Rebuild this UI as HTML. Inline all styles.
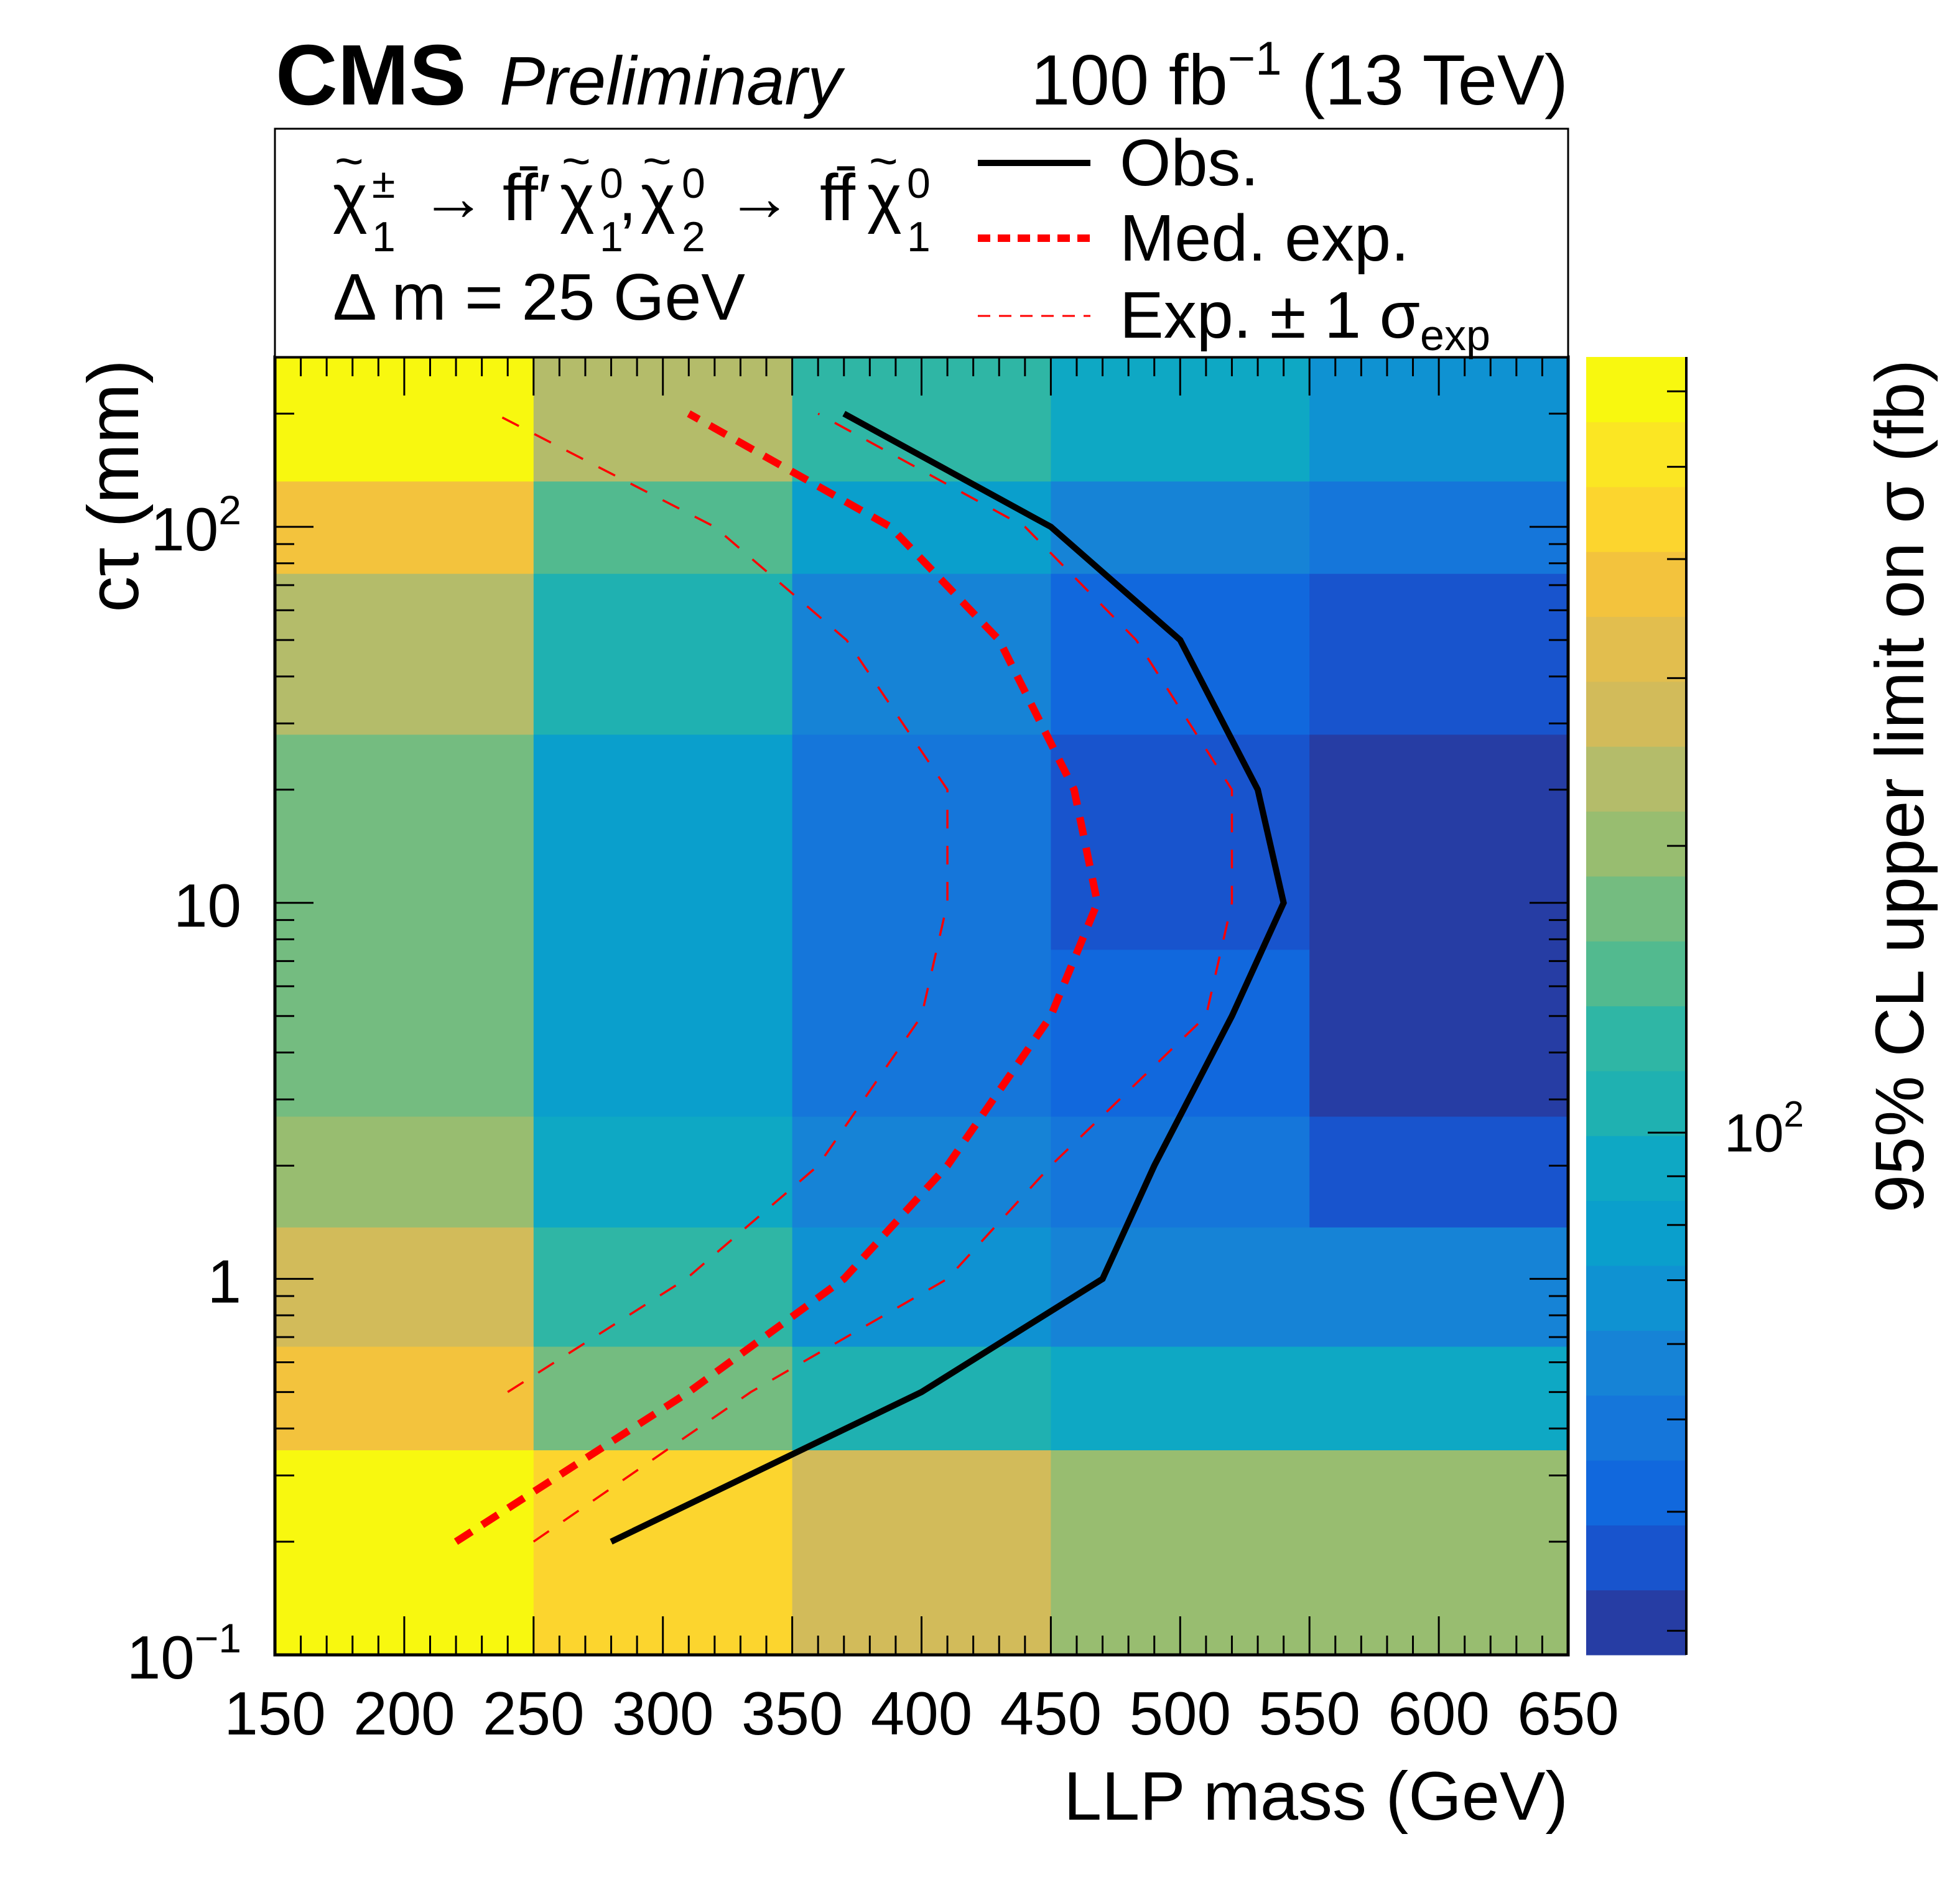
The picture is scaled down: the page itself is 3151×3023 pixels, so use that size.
<!DOCTYPE html>
<html><head><meta charset="utf-8">
<style>
html,body{margin:0;padding:0;background:#fff;}
svg{display:block;font-family:"Liberation Sans",Arial,sans-serif;}
</style></head>
<body>
<svg id="chart" width="3151" height="3023" viewBox="0 0 3151 3023" xmlns="http://www.w3.org/2000/svg">
  <g id="cells"></g>
  <g id="cbar"></g>
  <g id="lines"></g>
  <g id="axes"></g>
  <!-- legend box -->
  <rect x="442" y="207" width="2079" height="367" fill="#fff" stroke="#000" stroke-width="3"/>
  <g font-size="106">
    <text x="535" y="354">χ</text>
    <text x="538" y="286" font-size="80">~</text>
    <text x="598" y="318" font-size="68">±</text>
    <text x="598" y="404" font-size="68">1</text>
    <text x="676" y="354">→</text>
    <text x="808" y="354">ff̄′</text>
    <text x="900" y="354">χ</text>
    <text x="903" y="286" font-size="80">~</text>
    <text x="964" y="318" font-size="68">0</text>
    <text x="964" y="404" font-size="68">1</text>
    <text x="994" y="354">,</text>
    <text x="1030" y="354">χ</text>
    <text x="1033" y="286" font-size="80">~</text>
    <text x="1096" y="318" font-size="68">0</text>
    <text x="1096" y="404" font-size="68">2</text>
    <text x="1168" y="354">→</text>
    <text x="1318" y="354">ff̄</text>
    <text x="1394" y="354">χ</text>
    <text x="1397" y="286" font-size="80">~</text>
    <text x="1458" y="318" font-size="68">0</text>
    <text x="1458" y="404" font-size="68">1</text>
  </g>
  <text x="535" y="514" font-size="106">Δ m = 25 GeV</text>
  <g>
    <line x1="1572" y1="262" x2="1753" y2="262" stroke="#000" stroke-width="10"/>
    <text x="1800" y="298" font-size="106">Obs.</text>
  </g>
  <g>
    <line x1="1572" y1="383" x2="1753" y2="383" stroke="#f00" stroke-width="12" stroke-dasharray="20,12"/>
    <text x="1800" y="419" font-size="106">Med. exp.</text>
  </g>
  <g>
    <line x1="1572" y1="508" x2="1753" y2="508" stroke="#f00" stroke-width="3" stroke-dasharray="20,14"/>
    <text x="1800" y="543" font-size="106">Exp. ± 1 σ<tspan font-size="70" dy="20">exp</tspan></text>
  </g>
  <!-- header -->
  <text x="443" y="168" font-size="138" font-weight="bold">CMS</text>
  <text x="803" y="168" font-size="110" font-style="italic">Preliminary</text>
  <text x="2521" y="168" font-size="114" text-anchor="end">100 fb<tspan font-size="76" dy="-48">−1</tspan><tspan dy="48"> (13 TeV)</tspan></text>
  <!-- axis titles -->
  <text x="2521" y="2926" font-size="110" text-anchor="end">LLP mass (GeV)</text>
  <text transform="translate(222,578) rotate(-90)" font-size="116" text-anchor="end">cτ (mm)</text>
  <text transform="translate(3092,578) rotate(-90)" font-size="110" text-anchor="end">95% CL upper limit on σ (fb)</text>
</svg>
<script>
// ---- data ----
const massEdges = [150, 250, 350, 450, 550, 650];
const ctauEdges = [283, 132, 75, 28, 7.5, 2.7, 1.37, 0.66, 0.35, 0.1];
const limitRow0 = [603, 235, 126, 91.8, 67.1];
const limitRow1 = [376, 147, 78.5, 57.3, 49];
const limitRow2 = [235, 107, 57.3, 41.9, 35.8];
const limitRow3 = [172, 78.5, 49, 35.8, 30.6];
const limitRow4 = [172, 78.5, 49, 41.9, 30.6];
const limitRow5 = [201, 91.8, 57.3, 49, 35.8];
const limitRow6 = [275, 126, 67.1, 57.3, 57.3];
const limitRow7 = [376, 172, 107, 91.8, 91.8];
const limitRow8 = [603, 440, 275, 201, 201];
const limitRows = [limitRow0, limitRow1, limitRow2, limitRow3, limitRow4, limitRow5, limitRow6, limitRow7, limitRow8];

const curveCtau = [0.2, 0.5, 1, 2, 5, 10, 20, 50, 100, 200];
const obsMass = [280, 400, 470, 490, 520, 540, 530, 500, 450, 370];
const medExpMass = [220, 310, 370, 410, 450, 468, 459, 430, 388, 310];
const expUpMass = [250, 334, 410, 450, 510, 520, 520, 483, 440, 360];
const expDownCtau = [0.5, 1, 2, 5, 10, 20, 50, 100, 200];
const expDownMass = [240, 309, 360, 400, 410, 410, 371, 320, 235];

const xTickLabels = ["150","200","250","300","350","400","450","500","550","600","650"];
const xTickValues = [150,200,250,300,350,400,450,500,550,600,650];
const yTickValues = [0.1, 1, 10, 100];
const palette = ["#263da4","#1854cd","#1168dd","#1576da","#1683d6","#0f92d2","#0a9fcc","#0ea8c4","#1fb1b1","#2fb6a5",
                 "#52ba8f","#74bc80","#98bd70","#b4bc6a","#d2bb5a","#e2be4e","#f3c33d","#fcd52e","#fbe623","#f8f80f"];
const zMin = 28.3, zMax = 652;

// ---- geometry ----
const PL = 442, PR = 2521, PT = 574, PB = 2661;
const yMin = 0.1, yMax = 283;
const CBL = 2550, CBR = 2711;
const NS = "http://www.w3.org/2000/svg";
function X(m){ return PL + (m - 150) / 500 * (PR - PL); }
function Y(c){ return PB - (Math.log10(c) - Math.log10(yMin)) / (Math.log10(yMax) - Math.log10(yMin)) * (PB - PT); }
function Z(v){ return PB - (Math.log10(v) - Math.log10(zMin)) / (Math.log10(zMax) - Math.log10(zMin)) * (PB - PT); }
function colorOf(v){
  let f = (Math.log10(v) - Math.log10(zMin)) / (Math.log10(zMax) - Math.log10(zMin));
  let i = Math.floor(f * palette.length);
  i = Math.max(0, Math.min(palette.length - 1, i));
  return palette[i];
}
function mk(tag, attrs, parent){
  const e = document.createElementNS(NS, tag);
  for (const k in attrs) e.setAttribute(k, attrs[k]);
  parent.appendChild(e);
  return e;
}

// heatmap cells
const cells = document.getElementById('cells');
for (let r = 0; r < limitRows.length; r++) {
  for (let c = 0; c < massEdges.length - 1; c++) {
    const y1 = Y(ctauEdges[r]), y2 = Y(ctauEdges[r + 1]);
    const x1 = X(massEdges[c]), x2 = X(massEdges[c + 1]);
    const rect = mk('rect', {x: x1, y: y1, width: x2 - x1 + 0.6, height: y2 - y1 + 0.6, fill: colorOf(limitRows[r][c])}, cells);
    
    
  }
}

// color bar
const cbar = document.getElementById('cbar');
for (let i = 0; i < palette.length; i++) {
  const y1 = PB - (i + 1) / palette.length * (PB - PT), y2 = PB - i / palette.length * (PB - PT);
  const b = mk('rect', {x: CBL, y: y1, width: CBR - CBL, height: y2 - y1 + 0.6, fill: palette[i]}, cbar);
  
  
}
mk('line', {x1: CBR, y1: PT, x2: CBR, y2: PB, stroke: '#000', 'stroke-width': 4}, cbar);
const cbTicks = [30,40,50,60,70,80,90,100,200,300,400,500,600];
cbTicks.forEach(v => {
  const y = Z(v);
  const len = v === 100 ? 62 : 31;
  mk('line', {x1: CBR - len, y1: y, x2: CBR, y2: y, stroke: '#000', 'stroke-width': 3}, cbar);
});
const cbl = mk('text', {x: 2772, y: Z(100) + 30, 'font-size': 86}, cbar);


cbl.innerHTML = '10<tspan font-size="58" dy="-40">2</tspan>';

// curves
const lines = document.getElementById('lines');
function curve(masses, ctaus, attrs, name){
  const pts = masses.map((m, i) => X(m) + ',' + Y(ctaus[i])).join(' ');
  const p = mk('polyline', Object.assign({points: pts, fill: 'none'}, attrs), lines);
  
  
}
curve(expDownMass, expDownCtau, {stroke: '#f00', 'stroke-width': 3.5, 'stroke-dasharray': '30,28'}, 'expected-minus-1sigma-curve');
curve(expUpMass, curveCtau, {stroke: '#f00', 'stroke-width': 3.5, 'stroke-dasharray': '30,28'}, 'expected-plus-1sigma-curve');
curve(medExpMass, curveCtau, {stroke: '#f00', 'stroke-width': 12, 'stroke-dasharray': '30,20'}, 'median-expected-curve');
curve(obsMass, curveCtau, {stroke: '#000', 'stroke-width': 10, 'stroke-linejoin': 'miter'}, 'observed-curve');

// axes
const axes = document.getElementById('axes');
mk('rect', {x: PL, y: PT, width: PR - PL, height: PB - PT, fill: 'none', stroke: '#000', 'stroke-width': 5}, axes);
for (let m = 150; m <= 650; m += 10) {
  const x = X(m);
  const len = (m % 50 === 0) ? 62 : 31;
  mk('line', {x1: x, y1: PB, x2: x, y2: PB - len, stroke: '#000', 'stroke-width': 3}, axes);
  mk('line', {x1: x, y1: PT, x2: x, y2: PT + len, stroke: '#000', 'stroke-width': 3}, axes);
}
xTickLabels.forEach((lab, i) => {
  const t = mk('text', {x: X(xTickValues[i]), y: 2789, 'font-size': 98, 'text-anchor': 'middle'}, axes);
  
  
  t.textContent = lab;
});
for (let d = -1; d <= 2; d++) {
  for (let k = 1; k <= 9; k++) {
    const v = k * Math.pow(10, d);
    if (v > yMax) continue;
    const y = Y(v);
    const len = k === 1 ? 62 : 31;
    mk('line', {x1: PL, y1: y, x2: PL + len, y2: y, stroke: '#000', 'stroke-width': 3}, axes);
    mk('line', {x1: PR, y1: y, x2: PR - len, y2: y, stroke: '#000', 'stroke-width': 3}, axes);
  }
}
const yLabelHtml = {0.1: '10<tspan font-size="66" dy="-42">−1</tspan>', 1: '1', 10: '10', 100: '10<tspan font-size="66" dy="-42">2</tspan>'};
yTickValues.forEach(v => {
  const y = Y(v);
  const t = mk('text', {x: 388, y: y + 38, 'font-size': 98, 'text-anchor': 'end'}, axes);
  
  
  t.innerHTML = yLabelHtml[v];
});
</script>
</body></html>
